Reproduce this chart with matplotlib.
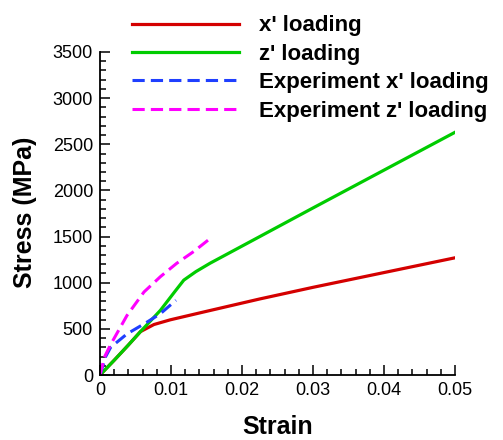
import matplotlib
matplotlib.use('agg')
import matplotlib.pyplot as plt
from matplotlib.ticker import MultipleLocator

plt.rcParams['font.family'] = ['Liberation Sans', 'DejaVu Sans']

# simulated curves
x_strain = [0.0, 0.002, 0.004, 0.0057, 0.0076, 0.0099, 0.015, 0.0225, 0.03, 0.04, 0.05]
x_stress = [0, 160, 325, 470, 547, 598, 690, 824, 950, 1110, 1270]
z_strain = [0.0, 0.002, 0.004, 0.0057, 0.0085, 0.0105, 0.0118, 0.0135, 0.0155, 0.0225, 0.03, 0.04, 0.05]
z_stress = [0, 160, 325, 470, 700, 900, 1028, 1120, 1211, 1500, 1810, 2220, 2630]

# experiments
ex_strain = [0.0, 0.0008, 0.0015, 0.0038, 0.0066, 0.0085, 0.0107]
ex_stress = [0, 200, 300, 445, 572, 664, 810]
ez_strain = [0.0, 0.0006, 0.0015, 0.0038, 0.0062, 0.0085, 0.0108, 0.0132, 0.0153]
ez_stress = [0, 190, 330, 645, 900, 1065, 1210, 1338, 1466]

labels = ["x' loading", "z' loading", "Experiment x' loading", "Experiment z' loading"]
xticks = [0, 0.01, 0.02, 0.03, 0.04, 0.05]
xtick_labels = ['0', '0.01', '0.02', '0.03', '0.04', '0.05']

fig = plt.figure(figsize=(5.03, 4.40), dpi=100)
ax = fig.add_axes([100 / 503, 65 / 440, 355 / 503, 323 / 440])

l1, = ax.plot(x_strain, x_stress, color='#d40000', lw=2.3)
l2, = ax.plot(z_strain, z_stress, color='#00cc00', lw=2.3)
l3, = ax.plot(ex_strain, ex_stress, color='#1f3fff', lw=2.2, ls=(0, (4, 2)))
l4, = ax.plot(ez_strain, ez_stress, color='#ff00ff', lw=2.2, ls=(0, (4, 2)))

ax.set_xlim(0, 0.05)
ax.set_ylim(0, 3500)
ax.set_xticks(xticks)
ax.set_xticklabels(xtick_labels)
ax.xaxis.set_minor_locator(MultipleLocator(0.002))
ax.yaxis.set_major_locator(MultipleLocator(500))
ax.yaxis.set_minor_locator(MultipleLocator(100))
ax.tick_params(which='both', direction='in', labelsize=13, width=1.1, pad=5)
ax.tick_params(which='major', length=7)
ax.tick_params(which='minor', length=4)
ax.spines['top'].set_visible(False)
ax.spines['right'].set_visible(False)
ax.spines['left'].set_linewidth(1.3)
ax.spines['bottom'].set_linewidth(1.3)
ax.patch.set_alpha(0)

ax.set_xlabel('Strain', fontsize=18, fontweight='bold')
ax.set_ylabel('Stress (MPa)', fontsize=18, fontweight='bold')
ax.xaxis.set_label_coords(0.5, -0.125)
ax.yaxis.set_label_coords(-0.178, 0.505)

fig.legend([l1, l2, l3, l4], labels, loc='upper left',
           bbox_to_anchor=(132 / 503, 1 - 15.5 / 440), frameon=False,
           prop={'weight': 'bold', 'size': 16}, handlelength=4.8,
           handletextpad=0.9, labelspacing=0.33, borderpad=0, borderaxespad=0)

fig.savefig('out.png', dpi=100)
